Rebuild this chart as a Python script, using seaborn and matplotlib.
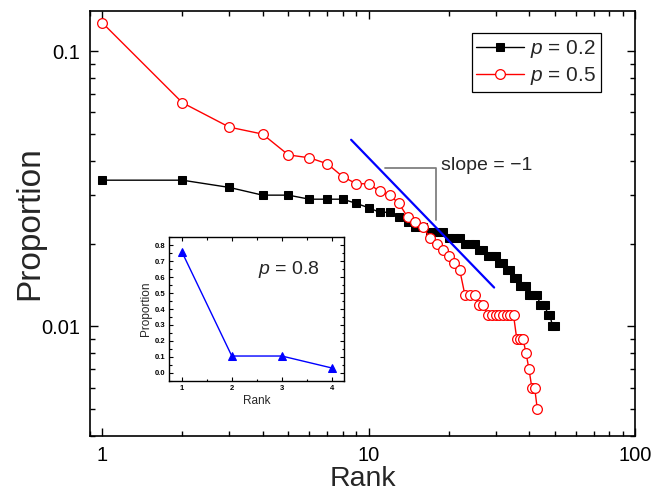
import numpy as np
import pandas as pd
import matplotlib
matplotlib.use("Agg")
import matplotlib.pyplot as plt
import matplotlib.ticker as mticker
import seaborn as sns

# Proportion of each rank, p = 0.2 (50 ranks)
prop_p02 = [0.034, 0.034, 0.032, 0.030, 0.030, 0.029, 0.029, 0.029, 0.028, 0.027,
            0.026, 0.026, 0.025, 0.024, 0.023, 0.023, 0.022, 0.022, 0.022, 0.021,
            0.021, 0.021, 0.020, 0.020, 0.020, 0.019, 0.019, 0.018, 0.018, 0.018,
            0.017, 0.017, 0.016, 0.016, 0.015, 0.015, 0.014, 0.014, 0.014, 0.013,
            0.013, 0.013, 0.013, 0.012, 0.012, 0.012, 0.011, 0.011, 0.010, 0.010]

# Proportion of each rank, p = 0.5 (43 ranks)
prop_p05 = [0.127, 0.065, 0.053, 0.050, 0.042, 0.041, 0.039, 0.035, 0.033, 0.033,
            0.031, 0.030, 0.028, 0.025, 0.024, 0.023, 0.021, 0.020, 0.019, 0.018,
            0.017, 0.016, 0.013, 0.013, 0.013, 0.012, 0.012, 0.011, 0.011, 0.011,
            0.011, 0.011, 0.011, 0.011, 0.011, 0.009, 0.009, 0.009, 0.008, 0.007,
            0.006, 0.006, 0.005]

rank_p02 = list(range(1, len(prop_p02) + 1))
rank_p05 = list(range(1, len(prop_p05) + 1))

# Inset series, p = 0.8
rank_p08 = [1, 2, 3, 4]
prop_p08 = [0.76, 0.105, 0.105, 0.03]

# Guide line of slope -1: y = slope_c / x
slope_x = [8.6, 29.6]
slope_c = 0.41

# Bracket joining the guide line to its label
bracket_x = [11.5, 17.9, 17.9]
bracket_y = [0.0376, 0.0376, 0.0243]

legend_labels = ["$p$ = 0.2", "$p$ = 0.5"]
inset_label = "$p$ = 0.8"
slope_label = "slope = \u22121"

sns.set_theme(style="ticks")
plt.rcParams["font.family"] = ["Liberation Sans", "DejaVu Sans"]
plt.rcParams["mathtext.fontset"] = "custom"
plt.rcParams["mathtext.it"] = "Liberation Sans:italic"
plt.rcParams["mathtext.rm"] = "Liberation Sans"
plt.rcParams["axes.linewidth"] = 1.2
plt.rcParams["axes.edgecolor"] = "black"
plt.rcParams["xtick.color"] = "black"
plt.rcParams["ytick.color"] = "black"

fig = plt.figure(figsize=(6.67, 4.91), dpi=100)
ax = fig.add_axes([0.1349, 0.1120, 0.8171, 0.8656])

df02 = pd.DataFrame({"Rank": rank_p02, "Proportion": prop_p02})
df05 = pd.DataFrame({"Rank": rank_p05, "Proportion": prop_p05})

sns.lineplot(data=df02, x="Rank", y="Proportion", ax=ax, errorbar=None,
             color="black", linewidth=1.0, marker="s", markersize=6.4,
             markerfacecolor="black", markeredgecolor="black",
             label=legend_labels[0], zorder=2)
sns.lineplot(data=df05, x="Rank", y="Proportion", ax=ax, errorbar=None,
             color="red", linewidth=1.0, marker="o", markersize=7,
             markerfacecolor="white", markeredgecolor="red",
             markeredgewidth=0.9, label=legend_labels[1], zorder=3)

slope_y = [slope_c / v for v in slope_x]
sns.lineplot(x=slope_x, y=slope_y, ax=ax, errorbar=None, color="blue",
             linewidth=1.6, zorder=4)

ax.plot(bracket_x, bracket_y, color="#808080", linewidth=1.3, zorder=1)
ax.text(18.7, 0.0369, slope_label, fontsize=14, ha="left", va="baseline")

ax.set_xscale("log")
ax.set_yscale("log")
ax.set_xlim(0.9, 100)
ax.set_ylim(0.004, 0.14)

fmt = mticker.FuncFormatter(lambda v, _: f"{v:g}")
ax.xaxis.set_major_formatter(fmt)
ax.yaxis.set_major_formatter(fmt)
ax.xaxis.set_minor_formatter(mticker.NullFormatter())
ax.yaxis.set_minor_formatter(mticker.NullFormatter())
ax.tick_params(which="both", direction="in", top=True, right=True, width=1.0)
ax.tick_params(which="major", length=6, labelsize=14.5, pad=7)
ax.tick_params(which="minor", length=3.5)

ax.set_xlabel("Rank", fontsize=20.5, labelpad=1)
ax.set_ylabel("Proportion", fontsize=24, labelpad=-3)

handles, labels = ax.get_legend_handles_labels()
leg = ax.legend(handles, labels, loc="upper right",
                bbox_to_anchor=(0.9376, 0.9477), borderaxespad=0,
                frameon=True, fancybox=False, edgecolor="black",
                framealpha=1, fontsize=15, handlelength=2.3,
                handletextpad=0.3, borderpad=0.22, labelspacing=0.25)
leg.get_frame().set_linewidth(0.9)

# Inset: p = 0.8 on linear axes
axin = fig.add_axes([0.2538, 0.2246, 0.2624, 0.2921])
sns.lineplot(x=rank_p08, y=prop_p08, ax=axin, errorbar=None, color="blue",
             linewidth=1.0, marker="^", markersize=6,
             markerfacecolor="blue", markeredgecolor="blue")
axin.set_xlim(0.75, 4.25)
axin.set_ylim(-0.05, 0.85)
axin.set_xticks([1, 2, 3, 4])
axin.set_yticks([0.0, 0.1, 0.2, 0.3, 0.4, 0.5, 0.6, 0.7, 0.8])
axin.xaxis.set_major_formatter(mticker.FormatStrFormatter("%d"))
axin.yaxis.set_major_formatter(mticker.FormatStrFormatter("%.1f"))
axin.xaxis.set_minor_locator(mticker.MultipleLocator(0.5))
axin.yaxis.set_minor_locator(mticker.MultipleLocator(0.05))
axin.tick_params(which="both", direction="in", top=True, right=True, width=0.8)
axin.tick_params(which="major", length=3, labelsize=5.5, pad=3)
axin.tick_params(which="minor", length=1.8)
for lbl in axin.get_xticklabels() + axin.get_yticklabels():
    lbl.set_fontweight("bold")
for sp in axin.spines.values():
    sp.set_linewidth(1.0)
axin.set_xlabel("Rank", fontsize=8.5, labelpad=2)
axin.set_ylabel("Proportion", fontsize=8.5, labelpad=2)
axin.text(2.52, 0.62, inset_label, fontsize=14, ha="left", va="baseline")

fig.savefig("out.png", dpi=100)
